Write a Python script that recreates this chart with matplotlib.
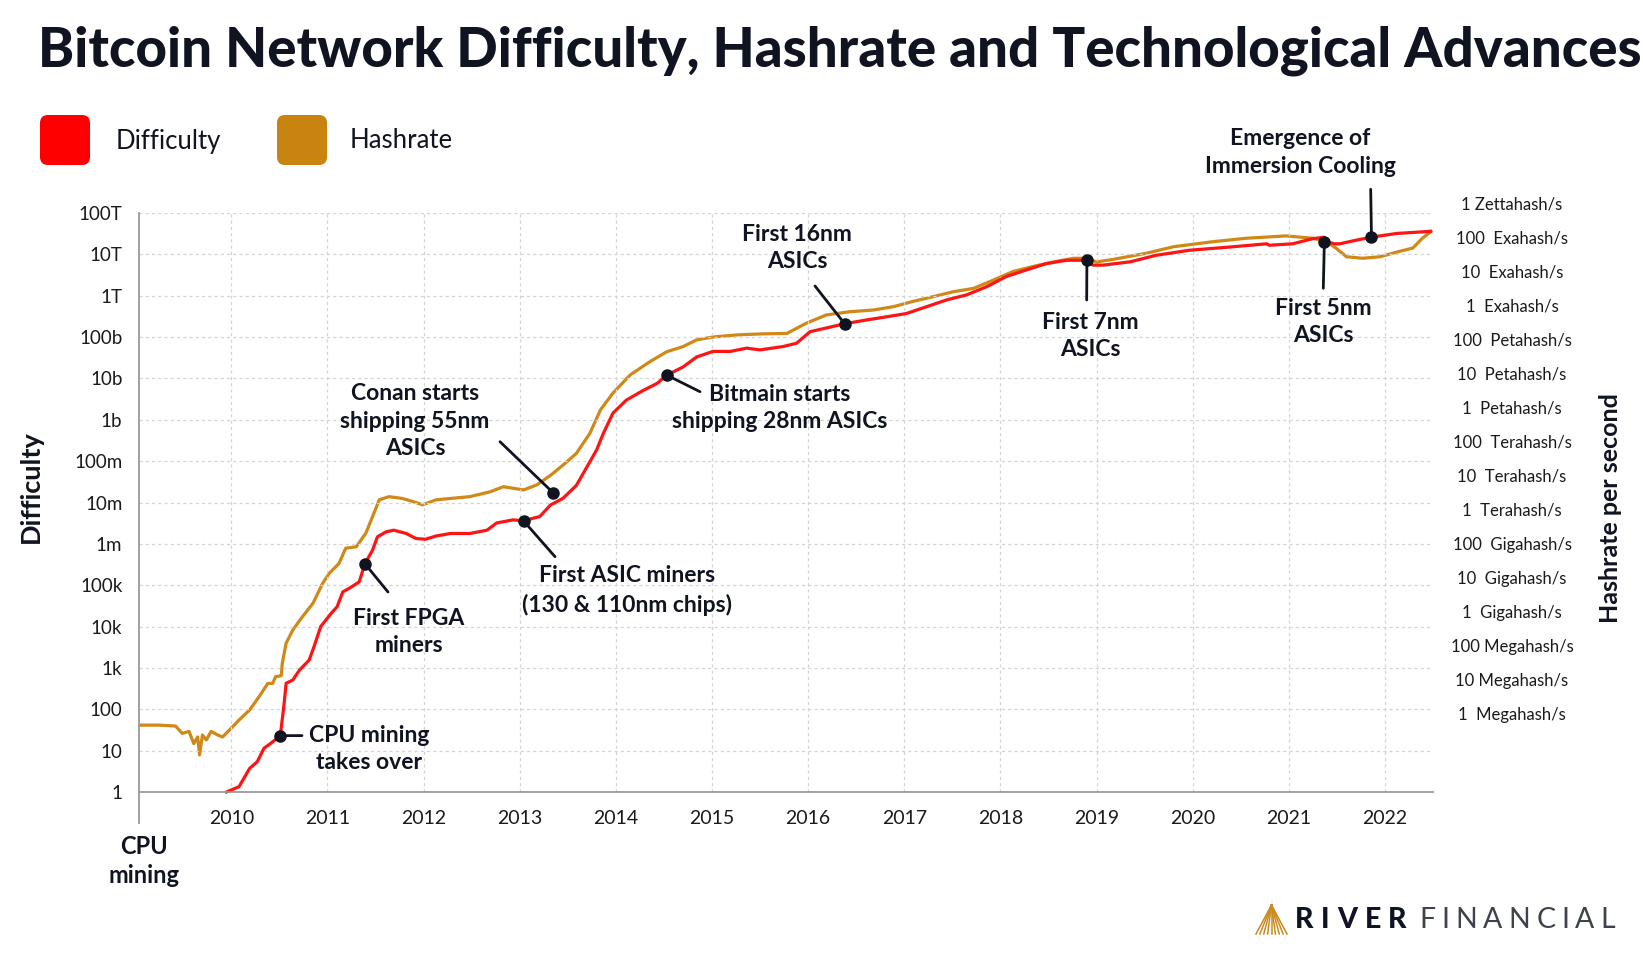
import matplotlib.pyplot as plt
import numpy as np
from matplotlib.patches import FancyBboxPatch
from matplotlib.ticker import NullLocator
from matplotlib.transforms import blended_transform_factory

plt.rcParams['font.family'] = ['Lato', 'DejaVu Sans']

W, H = 1643, 957
RED = '#ff1414'
ORANGE = '#d08816'
INK = '#101320'

# --- data ---
diff_year = [2009.95, 2010.08, 2010.19, 2010.27, 2010.34, 2010.41, 2010.51, 2010.55, 2010.57,
             2010.64, 2010.71, 2010.81, 2010.86, 2010.93, 2011.04, 2011.10, 2011.16, 2011.23,
             2011.33, 2011.39, 2011.47, 2011.52, 2011.61, 2011.69, 2011.82, 2011.92, 2012.02,
             2012.13, 2012.28, 2012.48, 2012.66, 2012.76, 2012.93, 2013.04, 2013.21, 2013.32,
             2013.45, 2013.59, 2013.70, 2013.80, 2013.87, 2013.97, 2014.11, 2014.29, 2014.43,
             2014.53, 2014.70, 2014.84, 2015.01, 2015.19, 2015.36, 2015.50, 2015.74, 2015.88,
             2016.02, 2016.16, 2016.38, 2016.61, 2016.82, 2017.02, 2017.23, 2017.44, 2017.65,
             2017.86, 2018.06, 2018.27, 2018.48, 2018.69, 2018.90, 2018.96, 2019.07, 2019.35,
             2019.62, 2019.97, 2020.38, 2020.77, 2020.80, 2021.04, 2021.25, 2021.37, 2021.39,
             2021.48, 2021.53, 2021.70, 2021.86, 2022.12, 2022.47]
diff_value = [1, 1.34, 3.7, 5.4, 11.4, 15, 23, 140, 425,
              510, 890, 1550, 3240, 1.0e4, 2.1e4, 3.0e4, 6.9e4, 8.5e4,
              1.2e5, 3.3e5, 7.1e5, 1.48e6, 1.95e6, 2.14e6, 1.78e6, 1.35e6, 1.29e6,
              1.55e6, 1.78e6, 1.78e6, 2.14e6, 3.2e6, 3.8e6, 3.6e6, 4.6e6, 8.7e6,
              1.26e7, 2.6e7, 7.3e7, 1.86e8, 4.7e8, 1.45e9, 3.0e9, 5.2e9, 7.6e9,
              1.2e10, 1.9e10, 3.3e10, 4.5e10, 4.5e10, 5.4e10, 4.9e10, 5.9e10, 7.1e10,
              1.35e11, 1.6e11, 2.1e11, 2.6e11, 3.1e11, 3.7e11, 5.4e11, 7.9e11, 1.05e12,
              1.66e12, 2.9e12, 4.2e12, 6.0e12, 7.2e12, 7.2e12, 5.5e12, 5.5e12, 6.6e12,
              9.5e12, 1.26e13, 1.5e13, 1.8e13, 1.66e13, 1.8e13, 2.4e13, 2.6e13, 2.0e13,
              1.8e13, 1.8e13, 2.2e13, 2.6e13, 3.2e13, 3.6e13]

hash_year = [2009.04, 2009.25, 2009.42, 2009.49, 2009.56, 2009.61, 2009.65, 2009.67, 2009.70,
             2009.74, 2009.79, 2009.86, 2009.91, 2010.00, 2010.08, 2010.19, 2010.29, 2010.38,
             2010.43, 2010.46, 2010.52, 2010.53, 2010.57, 2010.64, 2010.74, 2010.85, 2010.95,
             2011.02, 2011.12, 2011.19, 2011.30, 2011.40, 2011.47, 2011.54, 2011.64, 2011.78,
             2011.88, 2011.99, 2012.13, 2012.28, 2012.48, 2012.69, 2012.83, 2013.04, 2013.18,
             2013.32, 2013.45, 2013.59, 2013.73, 2013.84, 2013.97, 2014.15, 2014.36, 2014.53,
             2014.70, 2014.84, 2015.01, 2015.26, 2015.50, 2015.78, 2015.98, 2016.19, 2016.43,
             2016.68, 2016.89, 2017.09, 2017.30, 2017.51, 2017.72, 2017.93, 2018.13, 2018.34,
             2018.55, 2018.76, 2018.90, 2019.00, 2019.17, 2019.52, 2019.80, 2020.21, 2020.56,
             2020.97, 2021.25, 2021.39, 2021.49, 2021.60, 2021.77, 2021.95, 2022.15, 2022.29,
             2022.39, 2022.48]
hash_value = [4.9e5, 4.9e5, 4.6e5, 2.8e5, 3.2e5, 1.4e5, 2.2e5, 6.5e4, 2.5e5,
              1.8e5, 3.2e5, 2.5e5, 2.2e5, 4.0e5, 6.9e5, 1.36e6, 3.4e6, 8.3e6,
              8.3e6, 1.3e7, 1.4e7, 3.2e7, 1.26e8, 3.1e8, 7.6e8, 1.9e9, 7.3e9,
              1.45e10, 2.8e10, 7.9e10, 8.7e10, 2.2e11, 6.8e11, 2.1e12, 2.6e12, 2.3e12,
              1.9e12, 1.5e12, 2.1e12, 2.3e12, 2.6e12, 3.6e12, 5.1e12, 4.1e12, 5.8e12,
              1.1e13, 2.2e13, 4.9e13, 1.9e14, 9.3e14, 2.9e15, 1.0e16, 2.5e16, 4.8e16,
              6.8e16, 1.07e17, 1.3e17, 1.5e17, 1.6e17, 1.66e17, 3.3e17, 5.8e17, 7.2e17,
              8.1e17, 1.02e18, 1.45e18, 2.0e18, 2.8e18, 3.5e18, 6.2e18, 1.1e19, 1.55e19,
              2.1e19, 2.7e19, 2.7e19, 2.1e19, 2.5e19, 3.8e19, 5.9e19, 8.3e19, 1.05e20,
              1.23e20, 1.05e20, 8.3e19, 5.4e19, 3.0e19, 2.7e19, 3.0e19, 4.3e19, 5.4e19,
              1.05e20, 1.66e20]

diff_ticks = [10.0 ** i for i in range(15)]
diff_labels = ['1', '10', '100', '1k', '10k', '100k', '1m', '10m', '100m',
               '1b', '10b', '100b', '1T', '10T', '100T']
hash_ticks = [10.0 ** i for i in range(21, 5, -1)]
hash_labels = ['1 Zettahash/s', '100  Exahash/s', '10  Exahash/s', '1  Exahash/s',
               '100  Petahash/s', '10  Petahash/s', '1  Petahash/s',
               '100  Terahash/s', '10  Terahash/s', '1  Terahash/s',
               '100  Gigahash/s', '10  Gigahash/s', '1  Gigahash/s',
               '100 Megahash/s', '10 Megahash/s', '1  Megahash/s']
years = list(range(2010, 2023))

# event: (text, year, difficulty at the dot)
events = [
    ('CPU mining\ntakes over', 2010.51, 23),
    ('First FPGA\nminers', 2011.39, 3.3e5),
    ('First ASIC miners\n(130 & 110nm chips)', 2013.04, 3.6e6),
    ('Conan starts\nshipping 55nm\nASICs', 2013.35, 1.7e7),
    ('Bitmain starts\nshipping 28nm ASICs', 2014.53, 1.2e10),
    ('First 16nm\nASICs', 2016.38, 2.1e11),
    ('First 7nm\nASICs', 2018.90, 7.2e12),
    ('First 5nm\nASICs', 2021.37, 2.0e13),
    ('Emergence of\nImmersion Cooling', 2021.86, 2.6e13),
]
# pixel layout for each event: leader-line end, text centre
event_layout = [
    ((302, 735.6), (369, 749)),
    ((388, 592), (409, 632)),
    ((555, 556.7), (627, 590.5)),
    ((500, 441.7), (415, 421)),
    ((700, 391.7), (780, 408)),
    ((815, 286), (797, 248)),
    ((1086.7, 300), (1090, 336)),
    ((1323.3, 288.3), (1323, 322)),
    ((1370.7, 189.3), (1300, 152.5)),
]

fig = plt.figure(figsize=(W / 100, H / 100), dpi=100)
fig.patch.set_facecolor('white')

ax = fig.add_axes([139 / W, 1 - 792 / H, (1433 - 139) / W, (792 - 213) / H])
ax2 = ax.twinx()
ax.set_zorder(ax2.get_zorder() + 1)
ax.patch.set_visible(False)

ov = fig.add_axes([0, 0, 1, 1])
ov.set_xlim(0, W)
ov.set_ylim(H, 0)
ov.axis('off')
ov.patch.set_visible(False)
ov.set_zorder(20)

ax.set_xlim(2009.04, 2022.5)
ax.set_yscale('log')
ax.set_ylim(1, 1e14)
ax2.set_yscale('log')
ax2.set_ylim(10 ** 3.722, 10 ** 20.764)

ax2.plot(hash_year, hash_value, color=ORANGE, lw=2.3, solid_joinstyle='round')
ax.plot(diff_year, diff_value, color=RED, lw=2.3, solid_joinstyle='round', clip_on=False)

ax.set_yticks(diff_ticks, diff_labels)
ax.yaxis.set_minor_locator(NullLocator())
ax.set_xticks(years, [str(y) for y in years])
ax.tick_params(axis='y', length=0, pad=12, labelsize=13.5, labelcolor='#1a1a1a')
ax.tick_params(axis='x', length=0, pad=13, labelsize=14, labelcolor='#1a1a1a')
ax.grid(True, color='#d4d4d4', linestyle=(0, (2.5, 2.5)), linewidth=0.9)
ax.set_axisbelow(True)
for s in ['top', 'right']:
    ax.spines[s].set_visible(False)
for s in ['left', 'bottom']:
    ax.spines[s].set_color('#9a9a9a')
    ax.spines[s].set_linewidth(1.3)

ax2.set_yticks([])
ax2.yaxis.set_minor_locator(NullLocator())
for s in ax2.spines.values():
    s.set_visible(False)
trans = blended_transform_factory(ax2.transAxes, ax2.transData)
for v, lab in zip(hash_ticks, hash_labels):
    ax2.text((1512 - 139) / 1294, v, lab, transform=trans, ha='center', va='center',
             fontsize=12, color='#1a1a1a', clip_on=False)

# left spine runs on below the axis
ov.plot([139, 139], [792, 823], color='#9a9a9a', lw=1.3)

# events
for (label, yr, val), (lend, tc) in zip(events, event_layout):
    ax.annotate('', xy=(yr, val), xytext=lend, textcoords=ov.transData,
                arrowprops=dict(arrowstyle='-', color=INK, lw=2, shrinkA=0, shrinkB=0))
    ax.plot(yr, val, 'o', color=INK, ms=8, zorder=6, clip_on=False)
    ov.text(tc[0], tc[1], label, ha='center', va='center', fontsize=16.5,
            fontweight='bold', color=INK, linespacing=1.4, multialignment='center')

# titles and axis labels
ov.text(38, 51, 'Bitcoin Network Difficulty, Hashrate and Technological Advances',
        ha='left', va='center', fontsize=39.3, fontweight='black', color=INK)
ov.text(31, 487, 'Difficulty', rotation=90, ha='center', va='center',
        fontsize=19.5, fontweight='bold', color=INK)
ov.text(1610, 508, 'Hashrate per second', rotation=90, ha='center', va='center',
        fontsize=18, fontweight='bold', color=INK)
ov.text(144, 861, 'CPU\nmining', ha='center', va='center', fontsize=17,
        fontweight='bold', color=INK, linespacing=1.35)

# legend
ov.add_patch(FancyBboxPatch((40, 115), 50, 50, boxstyle='round,pad=0,rounding_size=8',
                            fc='#ff0000', ec='none'))
ov.text(116, 141, 'Difficulty', ha='left', va='center', fontsize=18.5, color=INK)
ov.add_patch(FancyBboxPatch((277, 115), 50, 50, boxstyle='round,pad=0,rounding_size=8',
                            fc='#c98310', ec='none'))
ov.text(350, 141, 'Hashrate', ha='left', va='center', fontsize=18.5, color=INK)

# logo
for bx in np.linspace(1256, 1287, 9):
    ov.plot([1271.5, bx], [905, 934], color='#c98a22', lw=1.1)


def spaced(x, y, word, gap, **kw):
    r = fig.canvas.get_renderer()
    for ch in word:
        t = ov.text(x, y, ch, ha='left', va='center', **kw)
        x += t.get_window_extent(r).width + gap
    return x


end = spaced(1295, 920, 'RIVER', 7.5, fontsize=20.5, fontweight='black', color='#0f1424')
spaced(end + 5, 920, 'FINANCIAL', 6, fontsize=20.5, fontweight='normal', color='#3e424c')

fig.savefig('out.png', dpi=100, facecolor='white')
